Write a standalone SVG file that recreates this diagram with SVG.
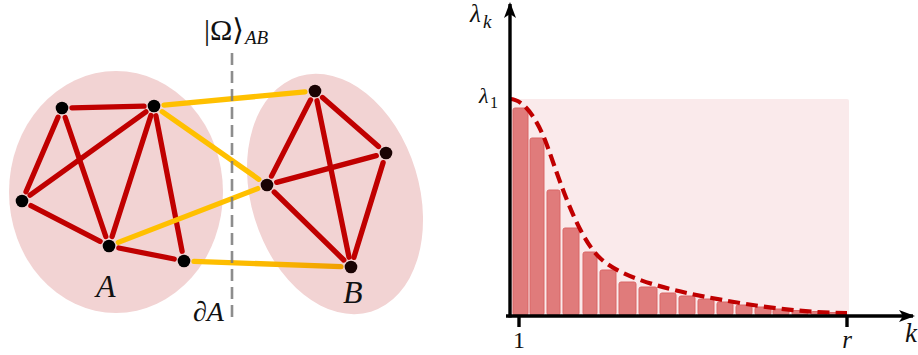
<svg xmlns="http://www.w3.org/2000/svg" width="918" height="355" viewBox="0 0 918 355">
<style>
.math{font-family:"Liberation Serif","DejaVu Serif",serif;font-style:italic;fill:#111}
.up{font-family:"Liberation Serif","DejaVu Serif",serif;fill:#111}
.red line{stroke:#c00000;stroke-width:5.3;stroke-linecap:round}
.yel line{stroke:#ffc000;stroke-width:5.3;stroke-linecap:round}
.node{fill:#000}
.nodeb{fill:#1a0404}
.blob{fill:#f2d3d3}
.bar{fill:#e07b7b;stroke:#d96767;stroke-width:1}
.axis{stroke:#000;stroke-width:3.4;fill:none}
</style>
<defs>
<marker id="arr" viewBox="0 0 16 12" refX="14" refY="6" markerWidth="16" markerHeight="12" markerUnits="userSpaceOnUse" orient="auto">
<path d="M0,0 L16,6 L0,12 L4,6 Z" fill="#000"/>
</marker>
<linearGradient id="yg" x1="0" y1="0" x2="1" y2="0">
<stop offset="0" stop-color="#ffc000"/>
<stop offset="0.5" stop-color="#fbb800"/>
<stop offset="1" stop-color="#f0a000"/>
</linearGradient>
</defs>

<g id="regionA"><ellipse class="blob" cx="116" cy="192" rx="107" ry="121"/></g>
<g id="regionB"><ellipse class="blob" cx="335" cy="194" rx="84" ry="123" transform="rotate(-17 335 194)"/></g>

<g id="connectors">
<g class="red">
<line x1="72" y1="107.8" x2="144" y2="106.2"/>
<line x1="58" y1="117.2" x2="26" y2="191.8"/>
<line x1="65.2" y1="117.5" x2="105.8" y2="236.5"/>
<line x1="145.9" y1="111.8" x2="30.1" y2="195.2"/>
<line x1="150.9" y1="115.5" x2="112.1" y2="236.5"/>
<line x1="155.9" y1="115.8" x2="182.1" y2="251.2"/>
<line x1="30.9" y1="205.6" x2="100.1" y2="241.4"/>
<line x1="118.8" y1="248" x2="174.2" y2="259"/>
<line x1="322.5" y1="97.6" x2="378.5" y2="146.4"/>
<line x1="310.5" y1="99.9" x2="271.5" y2="176.1"/>
<line x1="317" y1="100.8" x2="349" y2="257.2"/>
<line x1="376.3" y1="155.6" x2="276.7" y2="182.4"/>
<line x1="383.1" y1="162.6" x2="353.9" y2="257.4"/>
<line x1="274.2" y1="192" x2="343.8" y2="260"/>
</g>
<g class="yel">
<line x1="164" y1="105.1" x2="305" y2="91.9"/>
<line x1="162.2" y1="111.7" x2="258.8" y2="179.3"/>
<line x1="118.3" y1="242.4" x2="257.7" y2="188.6"/>
<line x1="194" y1="261.4" x2="341" y2="266.6" style="stroke:url(#yg)"/>
</g>
</g>

<g id="cut"><line x1="232" y1="53" x2="232" y2="320" stroke="#7a7a7a" stroke-width="2.6" stroke-dasharray="12,6" opacity="0.85"/></g>

<g id="a1"><circle class="node" cx="62" cy="108" r="6.3"/></g>
<g id="a2"><circle class="node" cx="154" cy="106" r="6.3"/></g>
<g id="a3"><circle class="node" cx="22" cy="201" r="6.3"/></g>
<g id="a4"><circle class="node" cx="109" cy="246" r="6.3"/></g>
<g id="a5"><circle class="node" cx="184" cy="261" r="6.3"/></g>
<g id="b1"><circle class="nodeb" cx="315" cy="91" r="6.3"/></g>
<g id="b2"><circle class="nodeb" cx="386" cy="153" r="6.3"/></g>
<g id="b3"><circle class="nodeb" cx="267" cy="185" r="6.3"/></g>
<g id="b4"><circle class="nodeb" cx="351" cy="267" r="6.3"/></g>

<g id="labels-left">
<text class="up" x="204" y="40" font-size="30">|Ω⟩</text>
<text class="math" x="245" y="44" font-size="19">AB</text>
<text class="math" x="96" y="297" font-size="32">A</text>
<text class="math" x="343" y="303" font-size="32">B</text>
<text class="math" x="193" y="321" font-size="28">∂A</text>
</g>

<g id="spectrum">
<rect x="510" y="99" width="339" height="217" rx="2" fill="#faeaeb"/>
<g id="bars">
<rect class="bar" x="513" y="108" width="15" height="207" rx="2"/>
<rect class="bar" x="530" y="138" width="14" height="177" rx="2"/>
<rect class="bar" x="547" y="190" width="13" height="125" rx="2"/>
<rect class="bar" x="563" y="228" width="16" height="87" rx="2"/>
<rect class="bar" x="583" y="252" width="14" height="63" rx="2"/>
<rect class="bar" x="600" y="270" width="16" height="45" rx="2"/>
<rect class="bar" x="619" y="282" width="17" height="33" rx="2"/>
<rect class="bar" x="639" y="287" width="18" height="28" rx="2"/>
<rect class="bar" x="660" y="293" width="16" height="22" rx="2"/>
<rect class="bar" x="679" y="296" width="16" height="19" rx="2"/>
<rect class="bar" x="698" y="299" width="16" height="16" rx="2"/>
<rect class="bar" x="717" y="302" width="16" height="13" rx="2"/>
<rect class="bar" x="736" y="305" width="16" height="10" rx="2"/>
<rect class="bar" x="755" y="307" width="16" height="8" rx="2"/>
<rect class="bar" x="773" y="309" width="16" height="6" rx="2"/>
<rect class="bar" x="792" y="310.5" width="16" height="4.5" rx="1.5"/>
<rect class="bar" x="811" y="311.5" width="16" height="3.5" rx="1.5"/>
<rect class="bar" x="829" y="312.5" width="16" height="2.5" rx="1"/>
</g>
<path d="M510,99 C522,99 535,115 545,140 C555,165 575,235 600,258 C625,281 680,293 740,303 C790,311.3 820,312.5 847,313" fill="none" stroke="#c00000" stroke-width="4.2" stroke-dasharray="12,6"/>
<line class="axis" x1="510" y1="317.5" x2="510" y2="4" marker-end="url(#arr)"/>
<line class="axis" x1="506" y1="316" x2="913" y2="316" marker-end="url(#arr)"/>
<line class="axis" x1="519" y1="316" x2="519" y2="327"/>
<line class="axis" x1="847" y1="316" x2="847" y2="327"/>
<text class="math" x="470" y="22" font-size="25">λ</text>
<text class="math" x="483" y="28" font-size="19">k</text>
<text class="math" x="479" y="103" font-size="22">λ</text>
<text class="up" x="490" y="108" font-size="16">1</text>
<text class="up" x="519" y="348" font-size="24" text-anchor="middle">1</text>
<text class="math" x="847" y="348" font-size="25" text-anchor="middle">r</text>
<text class="math" x="905" y="342" font-size="27">k</text>
</g>
</svg>
